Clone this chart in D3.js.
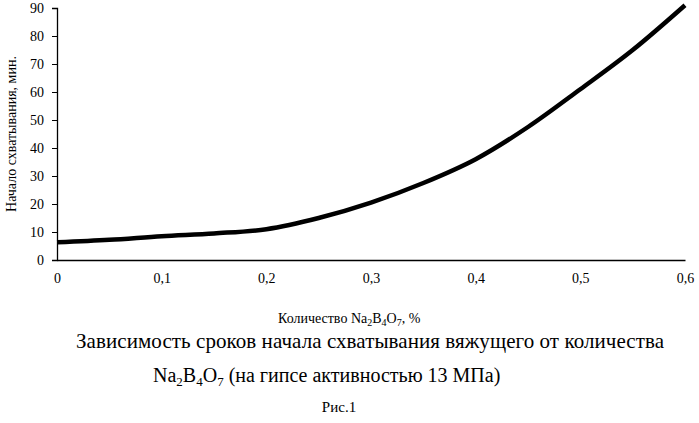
<!DOCTYPE html><html><head><meta charset="utf-8">
<script src="https://d3js.org/d3.v7.min.js"></script>
<style>body{margin:0;background:#fff}text{font-family:"Liberation Serif","DejaVu Serif",serif}</style></head><body>
<svg id="c" width="699" height="423"></svg>
<script>
const xVals=[0,0.05,0.1,0.15,0.2,0.25,0.3,0.35,0.4,0.45,0.5,0.55,0.6];
const yVals=[6.3,7.2,8.5,9.5,11,15,20.5,27.5,36,47.5,61,75,91];
const xTicks=[0,0.1,0.2,0.3,0.4,0.5,0.6];
const yTicks=[0,10,20,30,40,50,60,70,80,90];
const svg=d3.select("#c");
const x=d3.scaleLinear().domain([0,0.6]).range([57,685]);
const y=d3.scaleLinear().domain([0,90]).range([260,8]);
const fmt=d=>d===0?"0":String(d).replace(".",",");
const xa=svg.append("g").attr("transform","translate(0,260)").call(d3.axisBottom(x).tickValues(xTicks).tickSize(0).tickPadding(13).tickFormat(fmt));
const ya=svg.append("g").attr("transform","translate(57,0)").call(d3.axisLeft(y).tickValues(yTicks).tickSize(5).tickPadding(8));
[xa,ya].forEach(a=>{a.selectAll("text").attr("font-size",14).attr("font-family","Liberation Serif").attr("fill","#000");a.select(".domain").attr("stroke","#000").attr("stroke-width",1.3);});
svg.append("path").datum(xVals.map((v,i)=>[v,yVals[i]])).attr("fill","none").attr("stroke","#000").attr("stroke-width",4.5)
 .attr("d",d3.line().x(d=>x(d[0])).y(d=>y(d[1])).curve(d3.curveMonotoneX));
svg.append("text").attr("transform","translate(16,134) rotate(-90)").attr("text-anchor","middle").attr("font-size",14).text("Начало схватывания, мин.");
const t=svg.append("text").attr("x",278).attr("y",323).attr("font-size",14);
t.append("tspan").text("Количество Na");t.append("tspan").attr("font-size",10).attr("dy",3).text("2");
t.append("tspan").attr("dy",-3).text("B");t.append("tspan").attr("font-size",10).attr("dy",3).text("4");
t.append("tspan").attr("dy",-3).text("O");t.append("tspan").attr("font-size",10).attr("dy",3).text("7");
t.append("tspan").attr("dy",-3).text(", %");
svg.append("text").attr("x",76).attr("y",348).attr("font-size",21).attr("textLength",588).text("Зависимость сроков начала схватывания вяжущего от количества");
const t2=svg.append("text").attr("x",153).attr("y",382).attr("font-size",20);
t2.append("tspan").text("Na");t2.append("tspan").attr("font-size",13).attr("dy",4).text("2");
t2.append("tspan").attr("dy",-4).text("B");t2.append("tspan").attr("font-size",13).attr("dy",4).text("4");
t2.append("tspan").attr("dy",-4).text("O");t2.append("tspan").attr("font-size",13).attr("dy",4).text("7");
t2.append("tspan").attr("dy",-4).text(" (на гипсе активностью 13 МПа)");
svg.append("text").attr("x",339).attr("y",412).attr("text-anchor","middle").attr("font-size",15).text("Рис.1");
</script></body></html>
